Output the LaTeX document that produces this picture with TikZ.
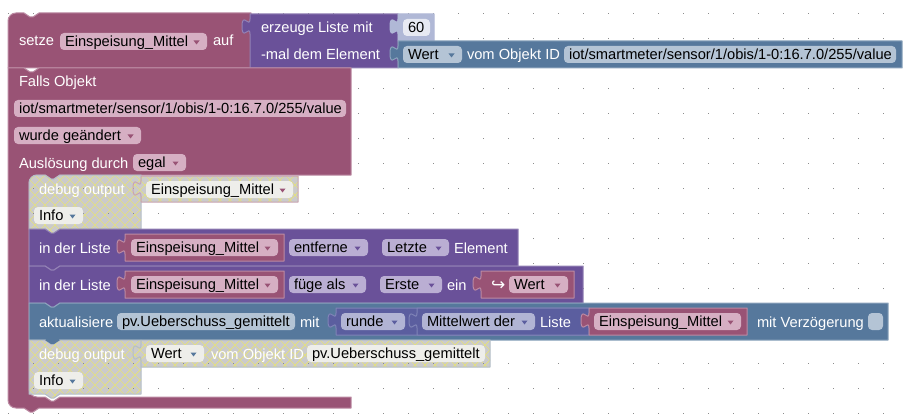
\documentclass[tikz,border=0pt]{standalone}
\usepackage{fontspec}
\setmainfont{Liberation Sans}
\newfontfamily\symfont{DejaVu Sans}
\definecolor{vard}{HTML}{995375}\definecolor{varl}{HTML}{BC8AA3}\definecolor{varp}{HTML}{D6AFC3}
\definecolor{lstd}{HTML}{6A5199}\definecolor{lstl}{HTML}{9382B5}\definecolor{lstp}{HTML}{BAAED3}
\definecolor{blud}{HTML}{56789C}\definecolor{blul}{HTML}{8BA3BC}\definecolor{blup}{HTML}{B4C4D5}
\definecolor{mthd}{HTML}{5B5E9F}\definecolor{mthl}{HTML}{7F83B7}\definecolor{mthp}{HTML}{B1B4D4}
\definecolor{numd}{HTML}{B0B8D6}\definecolor{nump}{HTML}{E7E9F2}
\definecolor{dbgf}{HTML}{CBCBCB}\definecolor{dbgy}{HTML}{E6E27A}\definecolor{dbgb}{HTML}{B4BEC8}\definecolor{dbgr}{HTML}{C8A4B4}
\definecolor{dbgp}{HTML}{EEEEEA}
\tikzset{
 every node/.style={inner sep=0pt,outer sep=0pt},
 blocktxt/.style={anchor=base west,text=white,font=\fontsize{14.67}{16}\selectfont},
 fieldtxt/.style={anchor=base west,text=black,font=\fontsize{14.67}{16}\selectfont},
 griddot/.style={fill=gray!90},
 blockedge/.style={line width=1pt,line join=round},
}
% path fragments
\newcommand{\nD}[2]{(#1+16,#2) -- (#1+22,#2+4) -- (#1+25,#2+4) -- (#1+31,#2)}
\newcommand{\nU}[2]{(#1+31,#2) -- (#1+25,#2+4) -- (#1+22,#2+4) -- (#1+16,#2)}
\newcommand{\stkp}[4]{(#1,#2) -- \nD{#1}{#2} -- (#3,#2) -- (#3,#4) -- \nU{#1}{#4} -- (#1,#4) -- cycle}
\newcommand{\dbgp}[4]{(#1,#2+8) .. controls (#1,#2+3.5) and (#1+3.5,#2) .. (#1+8,#2) -- \nD{#1}{#2} -- (#3,#2) -- (#3,#4) -- \nU{#1}{#4} -- (#1,#4) -- cycle}
\newcommand{\valp}[4]{(#1,#2) -- (#3,#2) -- (#3,#4) -- (#1,#4) -- (#1,#2+20) .. controls (#1,#2+10) and (#1-8,#2+28) .. (#1-8,#2+12.5) .. controls (#1-8,#2-3) and (#1,#2+15) .. (#1,#2+5) -- cycle}
\newcommand{\stk}[6]{\path[fill=#1,draw=#2,blockedge] \stkp{#3}{#4}{#5}{#6};}
\newcommand{\val}[6]{\path[fill=#1,draw=#2,blockedge] \valp{#3}{#4}{#5}{#6};}
% labels and fields: name, x, y-centre, text
\newcommand{\lab}[4]{\node[blocktxt] (#1) at (#2,#3+5) {#4};}
\newcommand{\txtf}[6]{\fill[#5,rounded corners=4pt] (#2,#4-8.5) rectangle (#3,#4+8.5);\node[fieldtxt] (#1) at (#2+5,#4+5.4) {#6};}
\newcommand{\ddf}[7]{\txtf{#1}{#2}{#3}{#4}{#5}{#6}\fill[#7] (#3-13.5,#4-1) -- (#3-7.5,#4-1) -- (#3-10.5,#4+3) -- cycle;}
\newcommand{\hatchr}[4]{\foreach \k in {#3,...,#4}{\draw[dbgy,line width=.7pt] (\k*10,#1) -- (\k*10+#2-#1,#2) (\k*10+#2-#1,#1) -- (\k*10,#2);}}
\newcommand{\griddots}{\foreach \gx in {0,...,35}{\foreach \gy in {0,...,16}{\fill[griddot] (8+25*\gx,13+25*\gy) rectangle +(1,1);}}}
\begin{document}
\begin{tikzpicture}[x=1pt,y=-1pt]
\useasboundingbox (0,0) rectangle (907,417);
\fill[white] (0,0) rectangle (907,417);
\griddots
% setze
\path[fill=vard,draw=varl,blockedge] (8,21) .. controls (8,16.5) and (11.5,13) .. (16,13) -- (24,13) -- (30,17) -- (33,17) -- (39,13) -- (251,13) -- (251,68) -- (8,68) -- cycle;
\lab{t1}{19}{41}{setze}
\ddf{f1}{60}{207}{41.5}{varp}{Einspeisung\_Mittel}{vard}
\lab{t2}{213}{41}{auf}
% list create
\val{lstd}{lstl}{250}{14}{398}{68}
\lab{t3}{261}{28}{erzeuge Liste mit}
\lab{t4}{261}{55}{-mal dem Element}
\val{numd}{numd}{398}{14}{434}{41}
\txtf{f2}{403}{430}{27.5}{nump}{60}
\val{blud}{blul}{398}{41}{902}{68}
\ddf{f3}{403}{462}{54.5}{blup}{Wert}{blud}
\lab{t5}{467}{55}{vom Objekt ID}
\txtf{f4}{564}{896}{54.5}{blup}{iot/smartmeter/sensor/1/obis/1-0:16.7.0/255/value}
% trigger
\path[fill=vard,draw=varl,blockedge] (8,68) -- \nD{8}{68} -- (351,68) -- (351,175) -- (60,175) -- (54,179) -- (51,179) -- (45,175) -- (37,175) .. controls (32.5,175) and (29,178.5) .. (29,183) -- (29,389) .. controls (29,393.5) and (32.5,397) .. (37,397) -- (45,397) -- (51,401) -- (54,401) -- (60,397) -- (351,397) -- (351,408) -- (39,408) -- (33,412) -- (30,412) -- (24,408) -- (16,408) .. controls (11.5,408) and (8,404.5) .. (8,400) -- cycle;
\lab{t6}{19}{82}{Falls Objekt}
\txtf{f5}{14}{346}{108.5}{varp}{iot/smartmeter/sensor/1/obis/1-0:16.7.0/255/value}
\ddf{f6}{14}{141}{135.5}{varp}{wurde geändert}{vard}
\lab{t7}{19}{163}{Auslösung durch}
\ddf{f7}{133}{186}{162.5}{varp}{egal}{vard}
% debug 1
\fill[dbgf] \dbgp{29}{175}{141}{229};
\begin{scope}\clip \dbgp{29}{175}{141}{229};\hatchr{170}{240}{-5}{20}\griddots\end{scope}
\path[draw=dbgb,blockedge] \dbgp{29}{175}{141}{229};
\fill[dbgf] \valp{141}{176}{298}{202};
\begin{scope}\clip \valp{141}{176}{298}{202};\hatchr{170}{210}{10}{32}\griddots\end{scope}
\path[draw=dbgr,blockedge] \valp{141}{176}{298}{202};
\lab{t8}{39}{189}{debug output}
\ddf{f8}{146}{293}{189.5}{dbgp}{Einspeisung\_Mittel}{vard}
\ddf{f9}{34}{83}{215.5}{dbgp}{Info}{blud}
% list delete
\stk{lstd}{lstl}{29}{229}{518}{266}
\lab{t9}{39}{248}{in der Liste}
\val{vard}{varl}{125}{234}{284}{261}
\ddf{f10}{131}{278}{247.5}{varp}{Einspeisung\_Mittel}{vard}
\ddf{f11}{289}{368}{247.5}{lstp}{entferne}{lstd}
\ddf{f12}{382}{449}{247.5}{lstp}{Letzte}{lstd}
\lab{t10}{454}{248}{Element}
% list insert
\stk{lstd}{lstl}{29}{266}{583}{303}
\lab{t11}{39}{285}{in der Liste}
\val{vard}{varl}{125}{271}{284}{298}
\ddf{f13}{131}{278}{284.5}{varp}{Einspeisung\_Mittel}{vard}
\ddf{f14}{289}{366}{284.5}{lstp}{füge als}{lstd}
\ddf{f15}{380}{442}{284.5}{lstp}{Erste}{lstd}
\lab{t12}{447}{285}{ein}
\val{vard}{varl}{481}{271}{574}{298}
\node[blocktxt,font=\symfont\fontsize{17}{18}\selectfont] (t13) at (491,290) {↪};
\ddf{f16}{509}{568}{284.5}{varp}{Wert}{vard}
% update
\stk{blud}{blul}{29}{303}{888}{340}
\lab{t14}{39}{322}{aktualisiere}
\txtf{f17}{117}{295}{321.5}{blup}{pv.Ueberschuss\_gemittelt}
\lab{t15}{300}{322}{mit}
\val{mthd}{mthl}{336}{308}{589}{335}
\ddf{f18}{341}{405}{321.5}{mthp}{runde}{mthd}
\val{mthd}{mthl}{417}{308}{589}{335}
\ddf{f19}{422}{535}{321.5}{mthp}{Mittelwert der}{mthd}
\lab{t16}{540}{322}{Liste}
\val{vard}{varl}{589}{308}{747}{335}
\ddf{f20}{594}{741}{321.5}{varp}{Einspeisung\_Mittel}{vard}
\lab{t17}{757}{322}{mit Verzögerung}
\fill[blup,rounded corners=4pt] (868,313) rectangle (883,330);
% debug 2
\fill[dbgf] \stkp{29}{340}{141}{394};
\begin{scope}\clip \stkp{29}{340}{141}{394};\hatchr{340}{400}{-4}{16}\griddots\end{scope}
\path[draw=dbgb,blockedge] \stkp{29}{340}{141}{394};
\fill[dbgf] \valp{141}{340}{490}{367};
\begin{scope}\clip \valp{141}{340}{490}{367};\hatchr{340}{370}{10}{50}\griddots\end{scope}
\path[draw=dbgb,blockedge] \valp{141}{340}{490}{367};
% notch of the update block above debug 2
\fill[blud] \nD{29}{340} -- cycle;
\lab{t18}{39}{354}{debug output}
\ddf{f21}{146}{204}{353.5}{dbgp}{Wert}{blud}
\lab{t19}{211}{354}{vom Objekt ID}
\txtf{f22}{307}{485}{353.5}{dbgp}{pv.Ueberschuss\_gemittelt}
\ddf{f23}{34}{83}{380.5}{dbgp}{Info}{blud}
\end{tikzpicture}
\end{document}
